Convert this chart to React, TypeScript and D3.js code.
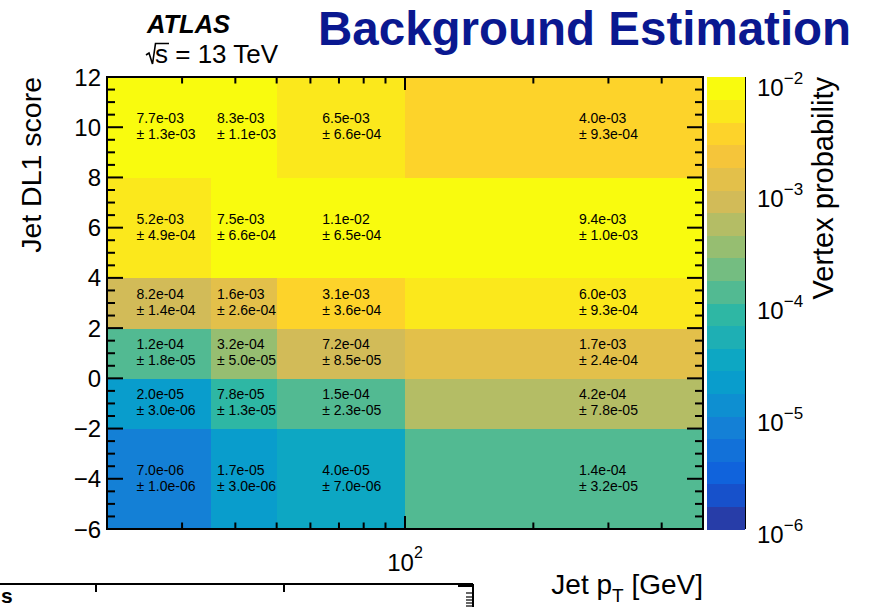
import { useEffect, useRef } from "react";
import * as d3 from "d3";

// bin edges
const ptEdges = [20, 35, 50, 100, 500];
const dl1Edges = [-6, -2, 0, 2, 4, 8, 12];

// vertex probability per bin, rows go from the lowest DL1 bin upwards
const probValues = [
  [7.0e-6, 1.7e-5, 4.0e-5, 1.4e-4],
  [2.0e-5, 7.8e-5, 1.5e-4, 4.24e-4],
  [1.2e-4, 3.2e-4, 7.2e-4, 1.7e-3],
  [8.2e-4, 1.6e-3, 3.1e-3, 6.0e-3],
  [5.2e-3, 7.5e-3, 1.1e-2, 9.4e-3],
  [7.7e-3, 8.3e-3, 6.5e-3, 4.0e-3],
];
const probErrors = [
  [1.0e-6, 3.0e-6, 7.0e-6, 3.2e-5],
  [3.0e-6, 1.3e-5, 2.3e-5, 7.8e-5],
  [1.8e-5, 5.0e-5, 8.5e-5, 2.4e-4],
  [1.4e-4, 2.6e-4, 3.6e-4, 9.3e-4],
  [4.9e-4, 6.6e-4, 6.5e-4, 1.0e-3],
  [1.3e-3, 1.1e-3, 6.6e-4, 9.3e-4],
];

const zMin = 1e-6;
const nContours = 20;

// ROOT kBird palette
const birdStops = [0, 0.125, 0.25, 0.375, 0.5, 0.625, 0.75, 0.875, 1];
const birdColors = [
  "#352a87", "#0f5cdd", "#1481d6", "#06a4ca", "#2eb7a4",
  "#87bf77", "#d1bb59", "#fec832", "#f9fb0e",
];

const FONT = "'Liberation Sans', Arial, Helvetica, sans-serif";

const fmtExp = (v: number) => {
  const [m, e] = v.toExponential(1).split("e");
  const sign = e[0] === "-" ? "-" : "+";
  const digits = e.replace(/[-+]/, "").padStart(2, "0");
  return `${m}e${sign}${digits}`;
};

const App = () => {
  const svgRef = useRef<SVGSVGElement>(null);

  useEffect(() => {
    document.body.style.margin = "0";
    const W = 869;
    const H = 607;
    const plot = { left: 107, right: 703, top: 77, bottom: 529 };
    const bar = { left: 707, right: 745 };

    const root = d3.select(svgRef.current);
    root.selectAll("*").remove();
    const svg = root.attr("width", W).attr("height", H).style("font-family", FONT);

    const x = d3
      .scaleLog()
      .domain([ptEdges[0], ptEdges[ptEdges.length - 1]])
      .range([plot.left, plot.right]);
    const y = d3
      .scaleLinear()
      .domain([dl1Edges[0], dl1Edges[dl1Edges.length - 1]])
      .range([plot.bottom, plot.top]);
    const zMax = d3.max(probValues.flat()) as number;
    const z = d3.scaleLog().domain([zMin, zMax]).range([plot.bottom, plot.top]);

    const bird = d3.scaleLinear<string>().domain(birdStops).range(birdColors);
    const logStep = Math.log10(zMax / zMin) / nContours;
    const level = (v: number) =>
      Math.max(0, Math.min(nContours - 1, Math.floor(Math.log10(v / zMin) / logStep)));
    const levelColor = (i: number) => bird(Math.floor(((i + 0.99) * 255) / nContours) / 254);

    // cells
    const cells = probValues.flatMap((row, r) =>
      row.map((v, c) => ({ v, err: probErrors[r][c], r, c }))
    );
    svg
      .append("g")
      .attr("shape-rendering", "crispEdges")
      .selectAll("rect")
      .data(cells)
      .enter()
      .append("rect")
      .attr("x", (d) => x(ptEdges[d.c]))
      .attr("y", (d) => y(dl1Edges[d.r + 1]))
      .attr("width", (d) => x(ptEdges[d.c + 1]) - x(ptEdges[d.c]) + 0.5)
      .attr("height", (d) => y(dl1Edges[d.r]) - y(dl1Edges[d.r + 1]) + 0.5)
      .attr("fill", (d) => levelColor(level(d.v)));

    // bin text (split line, left aligned, centred on arithmetic bin centre)
    const labels = svg
      .append("g")
      .selectAll("g")
      .data(cells)
      .enter()
      .append("g")
      .attr(
        "transform",
        (d) =>
          `translate(${x((ptEdges[d.c] + ptEdges[d.c + 1]) / 2)},${y(
            (dl1Edges[d.r] + dl1Edges[d.r + 1]) / 2
          )})`
      )
      .style("font-size", "14px");
    labels.append("text").attr("y", -4).text((d) => fmtExp(d.v));
    labels.append("text").attr("y", 12).text((d) => `± ${fmtExp(d.err)}`);
    labels.each(function () {
      const texts = d3.select(this).selectAll<SVGTextElement, unknown>("text");
      let w = 0;
      texts.each(function () {
        w = Math.max(w, this.getComputedTextLength());
      });
      texts.attr("x", -w / 2);
    });

    // frame
    svg
      .append("rect")
      .attr("x", plot.left)
      .attr("y", plot.top)
      .attr("width", plot.right - plot.left)
      .attr("height", plot.bottom - plot.top)
      .attr("fill", "none")
      .attr("stroke", "black")
      .attr("stroke-width", 2);

    const ticks = svg.append("g").attr("stroke", "black").attr("stroke-width", 2);

    // x ticks, bottom and top
    const xTicks = x.ticks().filter((t) => t > ptEdges[0] && t < ptEdges[ptEdges.length - 1]);
    const isDecade = (t: number) => Math.abs(Math.log10(t) - Math.round(Math.log10(t))) < 1e-9;
    xTicks.forEach((t) => {
      const len = isDecade(t) ? 13 : 6.5;
      ticks.append("line").attr("x1", x(t)).attr("x2", x(t)).attr("y1", plot.bottom).attr("y2", plot.bottom - len);
      ticks.append("line").attr("x1", x(t)).attr("x2", x(t)).attr("y1", plot.top).attr("y2", plot.top + len);
    });

    // y ticks, left and right
    const yTicks = d3.range(dl1Edges[0], dl1Edges[dl1Edges.length - 1] + 0.01, 0.5);
    yTicks.forEach((t) => {
      const len = t % 2 === 0 ? 16 : 8;
      ticks.append("line").attr("x1", plot.left).attr("x2", plot.left + len).attr("y1", y(t)).attr("y2", y(t));
      ticks.append("line").attr("x1", plot.right).attr("x2", plot.right - len).attr("y1", y(t)).attr("y2", y(t));
    });

    // y labels
    svg
      .append("g")
      .selectAll("text")
      .data(yTicks.filter((t) => t % 2 === 0))
      .enter()
      .append("text")
      .attr("x", 101)
      .attr("y", (d) => y(d) + 8.5)
      .attr("text-anchor", "end")
      .style("font-size", "24px")
      .text((d) => d3.format("d")(d));

    // x label 10^2
    xTicks.filter(isDecade).forEach((t) => {
      const tx = svg
        .append("text")
        .attr("x", x(t))
        .attr("y", 571)
        .attr("text-anchor", "middle")
        .style("font-size", "24px");
      tx.append("tspan").text("10");
      tx.append("tspan").attr("dy", -13).style("font-size", "16px").text(Math.round(Math.log10(t)));
    });

    // axis titles
    const xTitle = svg
      .append("text")
      .attr("x", plot.right)
      .attr("y", 594)
      .attr("text-anchor", "end")
      .style("font-size", "28px");
    xTitle.append("tspan").text("Jet p");
    xTitle.append("tspan").attr("dy", 8).style("font-size", "19px").text("T");
    xTitle.append("tspan").attr("dy", -8).text(" [GeV]");

    svg
      .append("text")
      .attr("transform", `translate(41,${plot.top}) rotate(-90)`)
      .attr("text-anchor", "end")
      .style("font-size", "28.5px")
      .text("Jet DL1 score");

    // colour bar
    const levels = d3.range(nContours);
    svg
      .append("g")
      .attr("shape-rendering", "crispEdges")
      .selectAll("rect")
      .data(levels)
      .enter()
      .append("rect")
      .attr("x", bar.left)
      .attr("width", bar.right - bar.left)
      .attr("y", (i) => z(zMin * Math.pow(10, (i + 1) * logStep)))
      .attr("height", (i) => z(zMin * Math.pow(10, i * logStep)) - z(zMin * Math.pow(10, (i + 1) * logStep)) + 0.5)
      .attr("fill", (i) => levelColor(i));

    ticks
      .append("line")
      .attr("x1", bar.right)
      .attr("x2", bar.right)
      .attr("y1", plot.top)
      .attr("y2", plot.bottom);
    const zTicks = z.ticks();
    zTicks.forEach((t) => {
      const len = isDecade(t) ? 17 : 8;
      ticks.append("line").attr("x1", bar.right).attr("x2", bar.right - len).attr("y1", z(t)).attr("y2", z(t));
    });
    zTicks.filter(isDecade).forEach((t) => {
      const tz = svg
        .append("text")
        .attr("x", 757)
        .attr("y", z(t) + 14)
        .style("font-size", "24px");
      tz.append("tspan").text("10");
      tz.append("tspan")
        .attr("dy", -12)
        .style("font-size", "17px")
        .text(`−${Math.abs(Math.round(Math.log10(t)))}`);
    });
    svg
      .append("text")
      .attr("transform", `translate(833,${plot.top}) rotate(-90)`)
      .attr("text-anchor", "end")
      .style("font-size", "29px")
      .text("Vertex probability");

    // labels on top
    svg
      .append("text")
      .attr("x", 147)
      .attr("y", 33)
      .style("font-size", "25.5px")
      .style("font-weight", "bold")
      .style("font-style", "italic")
      .text("ATLAS");
    svg
      .append("path")
      .attr("d", "M146,55 L149,53 L152.5,64 L155.5,43.5 L169,43.5")
      .attr("fill", "none")
      .attr("stroke", "black")
      .attr("stroke-width", 1.6);
    svg
      .append("text")
      .attr("x", 155)
      .attr("y", 63)
      .style("font-size", "26px")
      .text("s = 13 TeV");
    svg
      .append("text")
      .attr("x", 318)
      .attr("y", 45)
      .style("font-size", "47.5px")
      .style("font-weight", "bold")
      .attr("fill", "#0a1890")
      .text("Background Estimation");

    // top edge of the next panel, cut off by the crop
    const lower = svg.append("g").attr("stroke", "black").attr("stroke-width", 2);
    lower.append("line").attr("x1", 0).attr("x2", 473).attr("y1", 584).attr("y2", 584);
    lower.append("line").attr("x1", 473).attr("x2", 473).attr("y1", 584).attr("y2", H);
    [96, 284].forEach((tx) =>
      lower.append("line").attr("x1", tx).attr("x2", tx).attr("y1", 584).attr("y2", 592)
    );
    lower.append("line").attr("x1", 458).attr("x2", 473).attr("y1", 586).attr("y2", 586);
    [593, 597, 600, 603, 606].forEach((ty) =>
      lower.append("line").attr("x1", 466).attr("x2", 473).attr("y1", ty).attr("y2", ty).attr("stroke-width", 1.2)
    );
    svg
      .append("text")
      .attr("x", 1)
      .attr("y", 603)
      .style("font-size", "21px")
      .style("font-weight", "bold")
      .text("s");
  }, []);

  return <svg ref={svgRef} style={{ position: "absolute", left: 0, top: 0 }}></svg>;
};

export default App;
